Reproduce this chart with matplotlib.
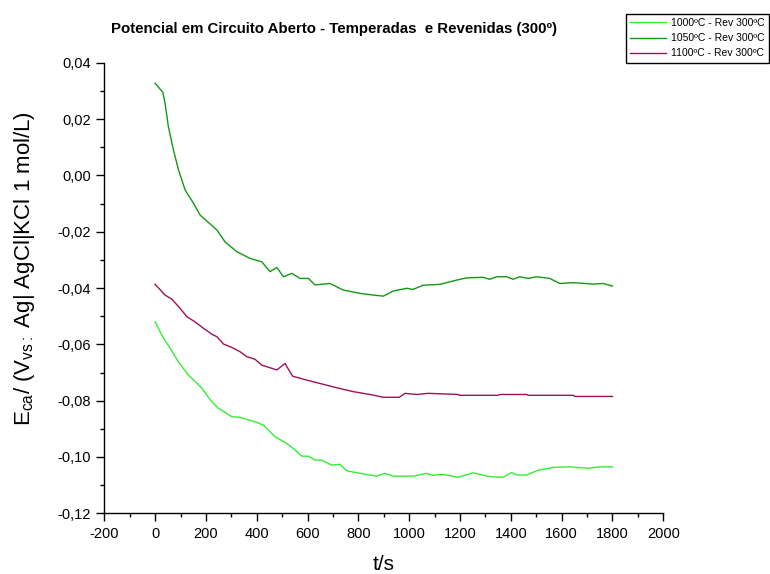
import numpy as np
import matplotlib
matplotlib.use("Agg")
import matplotlib.pyplot as plt
from matplotlib.ticker import MultipleLocator, FuncFormatter

plt.rcParams["font.family"] = ["Liberation Sans", "DejaVu Sans"]
plt.rcParams["mathtext.fontset"] = "custom"
plt.rcParams["mathtext.rm"] = "Liberation Sans"
plt.rcParams["mathtext.it"] = "Liberation Sans"
plt.rcParams["axes.unicode_minus"] = False

# open circuit potential, tempered at 300 C
t_1000 = [0, 33, 59, 92, 125, 184, 223, 249, 302, 334, 400, 426, 472, 518, 544, 577,
          603, 629, 655, 695, 727, 754, 806, 872, 904, 937, 1016, 1068, 1094, 1134,
          1193, 1252, 1317, 1370, 1403, 1422, 1462, 1507, 1566, 1632, 1704, 1750, 1800]
e_1000 = [-0.0520, -0.0579, -0.0614, -0.0662, -0.0703, -0.0756, -0.0804, -0.0827,
          -0.0857, -0.0859, -0.0877, -0.0887, -0.0928, -0.0952, -0.0970, -0.0997,
          -0.0997, -0.1011, -0.1011, -0.1029, -0.1026, -0.1049, -0.1058, -0.1068,
          -0.1058, -0.1068, -0.1068, -0.1058, -0.1065, -0.1062, -0.1072, -0.1056,
          -0.1070, -0.1072, -0.1055, -0.1064, -0.1064, -0.1047, -0.1037, -0.1035,
          -0.1040, -0.1035, -0.1035]

t_1050 = [0, 30, 39, 52, 72, 92, 118, 151, 177, 243, 275, 321, 374, 420, 452, 479,
          505, 538, 570, 603, 629, 688, 740, 806, 858, 898, 937, 990, 1015, 1055,
          1121, 1186, 1226, 1291, 1317, 1344, 1383, 1409, 1435, 1468, 1501, 1553,
          1593, 1645, 1724, 1763, 1800]
e_1050 = [0.0327, 0.0295, 0.0256, 0.0173, 0.0090, 0.0019, -0.0052, -0.0099, -0.0141,
          -0.0194, -0.0236, -0.0271, -0.0295, -0.0307, -0.0342, -0.0327, -0.0360,
          -0.0348, -0.0366, -0.0366, -0.0389, -0.0384, -0.0407, -0.0419, -0.0425,
          -0.0429, -0.0411, -0.0401, -0.0405, -0.0390, -0.0387, -0.0372, -0.0364,
          -0.0362, -0.0369, -0.0360, -0.0360, -0.0369, -0.0360, -0.0366, -0.0360,
          -0.0366, -0.0384, -0.0381, -0.0386, -0.0384, -0.0393]

t_1100 = [0, 39, 66, 98, 125, 157, 190, 223, 243, 269, 302, 334, 361, 393, 420, 452,
          479, 511, 541, 597, 649, 714, 780, 858, 898, 961, 983, 1029, 1075, 1193,
          1199, 1350, 1357, 1462, 1468, 1645, 1652, 1800]
e_1100 = [-0.0387, -0.0425, -0.0440, -0.0472, -0.0502, -0.0520, -0.0543, -0.0564,
          -0.0573, -0.0599, -0.0611, -0.0626, -0.0644, -0.0653, -0.0674, -0.0683,
          -0.0691, -0.0668, -0.0713, -0.0727, -0.0739, -0.0754, -0.0768, -0.0780,
          -0.0788, -0.0788, -0.0774, -0.0778, -0.0774, -0.0778, -0.0781, -0.0781,
          -0.0778, -0.0778, -0.0781, -0.0781, -0.0785, -0.0785]

labels = ["1000ºC - Rev 300ºC", "1050ºC - Rev 300ºC", "1100ºC - Rev 300ºC"]
colors = ["#33ee33", "#119911", "#a0105a"]

fig = plt.figure(figsize=(7.7, 5.74), dpi=100)
ax = fig.add_axes([0.1355, 0.1057, 0.7259, 0.7851])

for t, e, lab, c in zip([t_1000, t_1050, t_1100], [e_1000, e_1050, e_1100], labels, colors):
    ax.plot(t, e, color=c, linewidth=1.0, label=lab)

ax.set_xlim(-200, 2000)
ax.set_ylim(-0.12, 0.04)
ax.xaxis.set_major_locator(MultipleLocator(200))
ax.xaxis.set_minor_locator(MultipleLocator(100))
ax.yaxis.set_major_locator(MultipleLocator(0.02))
ax.yaxis.set_minor_locator(MultipleLocator(0.01))
ax.yaxis.set_major_formatter(FuncFormatter(lambda v, p: f"{v:.2f}".replace(".", ",").replace("-0,00", "0,00")))

ax.spines["top"].set_visible(False)
ax.spines["right"].set_visible(False)
for s in ("left", "bottom"):
    ax.spines[s].set_linewidth(1.0)
ax.tick_params(which="major", direction="out", length=6, width=1, labelsize=10.5, colors="black")
ax.tick_params(which="minor", direction="out", length=3, width=1)
ax.tick_params(axis="x", pad=4)

ax.set_xlabel("t/s", fontsize=15, labelpad=10)
ax.set_ylabel(r"E$_{ca}$/ (V$_{vs:}$ Ag| AgCl|KCl 1 mol/L)", fontsize=16)
ax.yaxis.set_label_coords(-0.12, 0.544)

fig.text(0.434, 0.950, "Potencial em Circuito Aberto - Temperadas  e Revenidas (300º)",
         ha="center", va="center", fontsize=10.8, fontweight="bold")

leg = fig.legend(loc="upper right", bbox_to_anchor=(0.999, 0.976), fontsize=7.5,
                 frameon=True, fancybox=False, edgecolor="black", framealpha=1,
                 handlelength=3.5, handletextpad=0.5, borderpad=0.4, labelspacing=0.5,
                 borderaxespad=0)
leg.get_frame().set_linewidth(1.0)

fig.savefig("out.png", dpi=100)
